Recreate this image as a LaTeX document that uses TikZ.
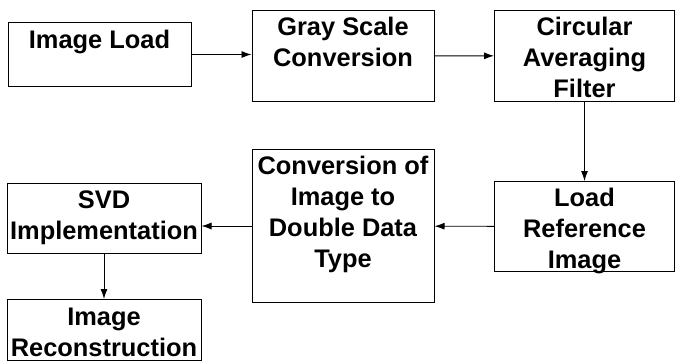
\documentclass[tikz,border=0pt]{standalone}
\usepackage{fontspec}
\setmainfont{Liberation Sans}
\usetikzlibrary{arrows.meta}
\newcommand{\blocktext}[1]{\begin{tabular}[t]{@{}c@{}}#1\end{tabular}}
\tikzset{
    block/.style={draw, line width=1pt, inner sep=0pt, anchor=north,
        font=\bfseries\fontsize{25.4}{31}\selectfont, text height=25pt},
    flow/.style={-{Latex[length=10pt,width=7pt]}, line width=0.9pt}
}

\begin{document}
\begin{tikzpicture}[x=1pt,y=-1pt]
        \useasboundingbox (0,0) rectangle (675,361);

        \node[block, minimum width=183pt, text height=26pt, text depth=38pt] (load) at (99.5,22) {Image Load};
        \node[block, minimum width=182pt, text depth=66pt] (gray) at (343,10) {\blocktext{Gray Scale\\Conversion}};
        \node[block, minimum width=180pt, text depth=65.5pt] (circ) at (584.5,10) {\blocktext{Circular\\Averaging\\Filter}};
        \node[block, minimum width=180pt, text depth=65pt] (ref) at (584.5,181) {\blocktext{Load\\Reference\\Image}};
        \node[block, minimum width=182pt, text depth=128pt] (conv) at (343,149) {\blocktext{Conversion of\\Image to\\Double Data\\Type}};
        \node[block, minimum width=194pt, text depth=45pt] (svd) at (104,183) {\blocktext{SVD\\Implementation}};
        \node[block, minimum width=194pt, text height=26pt, text depth=35pt] (recon) at (104,299) {\blocktext{Image\\Reconstruction}};

        \draw[flow] (load.east) -- (load.east -| gray.west);
        \draw[flow] (gray) -- (circ);
        \draw[flow] (circ) -- (ref);
        \draw[flow] (ref) -- (conv);
        \draw[flow] (conv.west) -- (conv.west -| svd.east);
        \draw[flow] (svd) -- (recon);
    \end{tikzpicture}
\end{document}
